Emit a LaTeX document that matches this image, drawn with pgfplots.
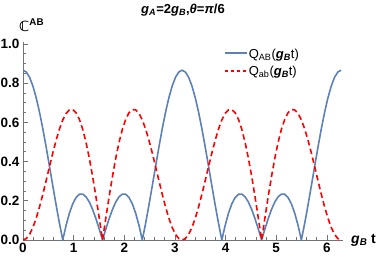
\documentclass[border=0pt]{standalone}
\usepackage{pgfplots}
\pgfplotsset{compat=1.18}
\usepackage{pgfplotstable}
\usepackage{fontspec}
\setmainfont{Liberation Sans}
\newfontfamily\dejavu{DejaVu Sans}
\definecolor{mblue}{rgb}{0.368417,0.506779,0.709798}
\definecolor{axgray}{gray}{0.45}
\newcommand{\gB}{\textbf{\textit{g}\textsubscript{\textit{B}}}}
\pgfplotstableread{
t AB ab
0 0.8660 0
0.06545 0.8568 0.0074
0.13090 0.8294 0.0293
0.19635 0.7847 0.0647
0.26180 0.7245 0.1121
0.32725 0.6506 0.1695
0.39270 0.5658 0.2343
0.45815 0.4728 0.3039
0.52360 0.3750 0.3750
0.58905 0.2756 0.4445
0.65450 0.1778 0.5092
0.71995 0.0850 0.5661
0.78540 0 0.6124
0.85085 0.0745 0.6455
0.91630 0.1365 0.6637
0.98175 0.1841 0.6653
1.04720 0.2165 0.6495
1.11265 0.2332 0.6162
1.17810 0.2343 0.5658
1.24355 0.2208 0.4992
1.30900 0.1941 0.4183
1.37445 0.1561 0.3250
1.43990 0.1092 0.2222
1.50535 0.0562 0.1128
1.57080 0 0
1.63625 0.0562 0.1128
1.70170 0.1092 0.2222
1.76715 0.1561 0.3250
1.83260 0.1941 0.4183
1.89805 0.2208 0.4992
1.96350 0.2343 0.5658
2.02895 0.2332 0.6162
2.09440 0.2165 0.6495
2.15984 0.1841 0.6653
2.22529 0.1365 0.6637
2.29074 0.0745 0.6455
2.35619 0 0.6124
2.42164 0.0850 0.5661
2.48709 0.1778 0.5092
2.55254 0.2756 0.4445
2.61799 0.3750 0.3750
2.68344 0.4728 0.3039
2.74889 0.5658 0.2343
2.81434 0.6506 0.1695
2.87979 0.7245 0.1121
2.94524 0.7847 0.0647
3.01069 0.8294 0.0293
3.07614 0.8568 0.0074
3.14159 0.8660 0
3.20704 0.8568 0.0074
3.27249 0.8294 0.0293
3.33794 0.7847 0.0647
3.40339 0.7245 0.1121
3.46884 0.6506 0.1695
3.53429 0.5658 0.2343
3.59974 0.4728 0.3039
3.66519 0.3750 0.3750
3.73064 0.2756 0.4445
3.79609 0.1778 0.5092
3.86154 0.0850 0.5661
3.92699 0 0.6124
3.99244 0.0745 0.6455
4.05789 0.1365 0.6637
4.12334 0.1841 0.6653
4.18879 0.2165 0.6495
4.25424 0.2332 0.6162
4.31969 0.2343 0.5658
4.38514 0.2208 0.4992
4.45059 0.1941 0.4183
4.51604 0.1561 0.3250
4.58149 0.1092 0.2222
4.64694 0.0562 0.1128
4.71239 0 0
4.77784 0.0562 0.1128
4.84329 0.1092 0.2222
4.90874 0.1561 0.3250
4.97419 0.1941 0.4183
5.03964 0.2208 0.4992
5.10509 0.2343 0.5658
5.17054 0.2332 0.6162
5.23599 0.2165 0.6495
5.30144 0.1841 0.6653
5.36689 0.1365 0.6637
5.43234 0.0745 0.6455
5.49779 0 0.6124
5.56324 0.0850 0.5661
5.62869 0.1778 0.5092
5.69414 0.2756 0.4445
5.75959 0.3750 0.3750
5.82504 0.4728 0.3039
5.89049 0.5658 0.2343
5.95594 0.6506 0.1695
6.02139 0.7245 0.1121
6.08684 0.7847 0.0647
6.15229 0.8294 0.0293
6.21774 0.8568 0.0074
6.28319 0.8660 0
}\data
\begin{document}
\begin{tikzpicture}
\useasboundingbox (-23pt,-18pt) rectangle (359pt,240pt);
\begin{axis}[
  scale only axis,
  width=320pt, height=198pt,
  xmin=0, xmax=6.32, ymin=0, ymax=1.01,
  axis lines=left,
  axis line style={-, axgray, line width=0.7pt},
  major tick style={axgray, line width=0.6pt},
  minor tick style={axgray, line width=0.6pt},
  tick align=inside,
  major tick length=5pt, minor tick length=3pt,
  xtick={0,1,2,3,4,5,6},
  ytick={0,0.2,0.4,0.6,0.8,1.0},
  minor x tick num=4,
  minor y tick num=3,
  /pgf/number format/assume math mode=true,
  ticklabel style={font=\bfseries\fontsize{13.5}{14}\selectfont},
  yticklabel style={/pgf/number format/fixed, /pgf/number format/fixed zerofill, /pgf/number format/precision=1},
  xlabel={\textbf{\textit{g}\textsubscript{\textit{B}} t}},
  every axis x label/.style={at={(axis description cs:1,0)}, anchor=base west, xshift=8pt, yshift=-3pt, font=\fontsize{14}{14}\selectfont, inner sep=0pt},
  ylabel={{\dejavu\bfseries ℂ}\textsuperscript{\bfseries AB}},
  every axis y label/.style={at={(axis description cs:0,1)}, anchor=base west, xshift=-4pt, yshift=11pt, font=\fontsize{14}{14}\selectfont, inner sep=0pt},
  title={\textbf{\textit{g}\textsubscript{\textit{A}}=2\textit{g}\textsubscript{\textit{B}},\textit{θ}=\textit{π}/6}},
  title style={at={(axis description cs:0.5,1)}, anchor=base, yshift=23pt, font=\fontsize{13}{13}\selectfont, inner sep=0pt},
  clip=true,
]
\addplot[color=mblue, line width=1.6pt] table[x=t, y=AB] {\data};
\addplot[color=red, line width=1.6pt, dash pattern=on 5.5pt off 3.5pt] table[x=t, y=ab] {\data};
\draw[mblue, line width=1.1pt] (rel axis cs:0.631,0.9444) -- (rel axis cs:0.700,0.9444);
\node[anchor=base west, inner sep=0pt, font=\fontsize{13}{13}\selectfont] at (rel axis cs:0.705,0.919) {Q\textsubscript{AB}(\gB t)};
\draw[red, line width=1.1pt, dash pattern=on 3.5pt off 2.5pt] (rel axis cs:0.631,0.8535) -- (rel axis cs:0.700,0.8535);
\node[anchor=base west, inner sep=0pt, font=\fontsize{13}{13}\selectfont] at (rel axis cs:0.705,0.833) {Q\textsubscript{ab}(\gB t)};
\end{axis}
\end{tikzpicture}
\end{document}
